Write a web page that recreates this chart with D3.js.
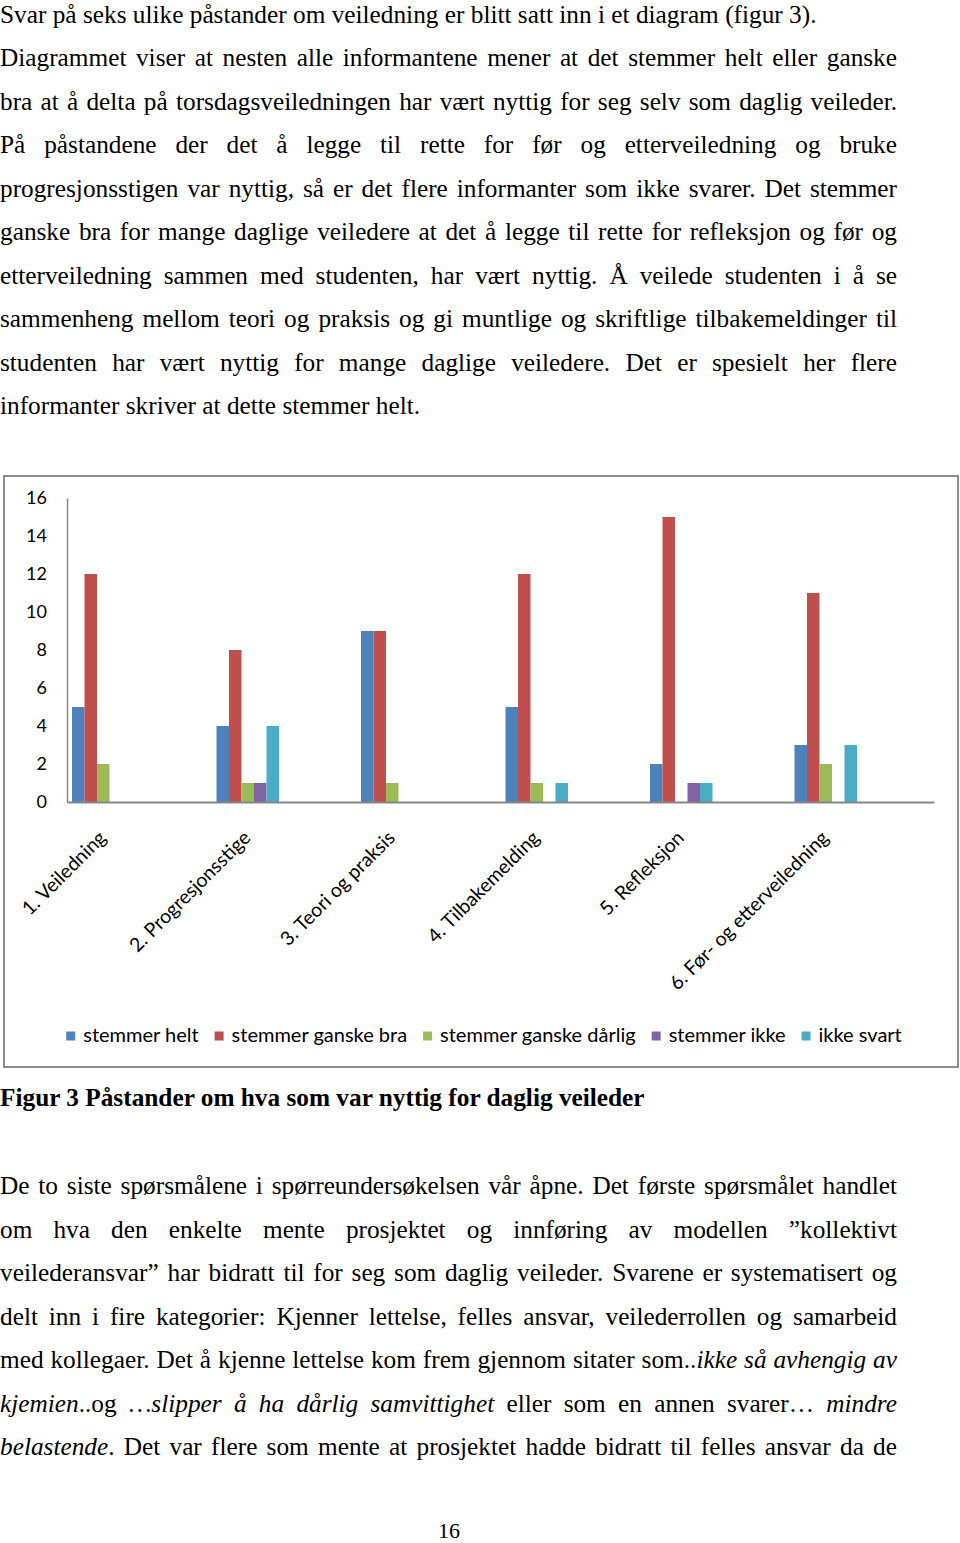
<!DOCTYPE html>
<html>
<head>
<meta charset="utf-8">
<script src="https://cdn.jsdelivr.net/npm/d3@7"></script>
<style>
  html, body { margin: 0; padding: 0; background: #fff; }
  svg { display: block; }
</style>
</head>
<body>
<svg id="page" width="960" height="1543"></svg>
<script>
// ---------- DATA ----------
const categories = ["1. Veiledning", "2. Progresjonsstige", "3. Teori og praksis", "4. Tilbakemelding", "5. Refleksjon", "6. Før- og etterveiledning"];
const seriesNames = ["stemmer helt", "stemmer ganske bra", "stemmer ganske dårlig", "stemmer ikke", "ikke svart"];
const stemmerHelt = [5, 4, 9, 5, 2, 3];
const stemmerGanskeBra = [12, 8, 9, 12, 15, 11];
const stemmerGanskeDarlig = [2, 1, 1, 1, 0, 2];
const stemmerIkke = [0, 1, 0, 0, 1, 0];
const ikkeSvart = [0, 4, 0, 1, 1, 3];
const yTicks = [0, 2, 4, 6, 8, 10, 12, 14, 16];
const seriesColors = ["#4F81BD", "#C0504D", "#9BBB59", "#8064A2", "#4BACC6"];

const paragraph1 = [
  "Svar på seks ulike påstander om veiledning er blitt satt inn i et diagram (figur 3).",
  "Diagrammet viser at nesten alle informantene mener at det stemmer helt eller ganske",
  "bra at å delta på torsdagsveiledningen har vært nyttig for seg selv som daglig veileder.",
  "På påstandene der det å legge til rette for før og etterveiledning og bruke",
  "progresjonsstigen var nyttig, så er det flere informanter som ikke svarer. Det stemmer",
  "ganske bra for mange daglige veiledere at det å legge til rette for refleksjon og før og",
  "etterveiledning sammen med studenten, har vært nyttig. Å veilede studenten i å se",
  "sammenheng mellom teori og praksis og gi muntlige og skriftlige tilbakemeldinger til",
  "studenten har vært nyttig for mange daglige veiledere. Det er spesielt her flere",
  "informanter skriver at dette stemmer helt."
];
const paragraph1Justify = [false, true, true, true, true, true, true, true, true, false];
const caption = "Figur 3 Påstander om hva som var nyttig for daglig veileder";
const paragraph2 = [
  "De to siste spørsmålene i spørreundersøkelsen vår åpne. Det første spørsmålet handlet",
  "om hva den enkelte mente prosjektet og innføring av modellen ”kollektivt",
  "veilederansvar” har bidratt til for seg som daglig veileder. Svarene er systematisert og",
  "delt inn i fire kategorier: Kjenner lettelse, felles ansvar, veilederrollen og samarbeid",
  "med kollegaer. Det å kjenne lettelse kom frem gjennom sitater som..*ikke så avhengig av*",
  "*kjemien*..og *…slipper å ha dårlig samvittighet* eller som en annen svarer… *mindre*",
  "*belastende*. Det var flere som mente at prosjektet hadde bidratt til felles ansvar da de"
];
const pageNumber = "16";

// ---------- PAGE ----------
const svg = d3.select("#page");
svg.append("rect").attr("width", 960).attr("height", 1543).attr("fill", "#fff");

const serifFont = "'Liberation Serif', 'Times New Roman', serif";
const bodySize = 25.3;
const lineGap = 43.5;
const textRight = 897;

function parseWords(str) {
  const words = [];
  let cur = [];
  let seg = "";
  let italic = false;
  const flush = () => { if (seg.length) { cur.push({ t: seg, i: italic }); seg = ""; } };
  for (const ch of str) {
    if (ch === "*") { flush(); italic = !italic; }
    else if (ch === " ") { flush(); if (cur.length) words.push(cur); cur = []; }
    else seg += ch;
  }
  flush();
  if (cur.length) words.push(cur);
  return words;
}

function drawLine(g, str, y, justify) {
  const words = parseWords(str);
  const nodes = words.map(w => {
    const t = g.append("text")
      .attr("y", y)
      .attr("font-family", serifFont)
      .attr("font-size", bodySize)
      .attr("fill", "#000");
    w.forEach(s => t.append("tspan").text(s.t).attr("font-style", s.i ? "italic" : "normal"));
    return t;
  });
  const widths = nodes.map(n => n.node().getComputedTextLength());
  const spaceW = bodySize * 0.25;
  const total = d3.sum(widths);
  const gap = justify && nodes.length > 1 ? (textRight - total) / (nodes.length - 1) : spaceW;
  let x = 0;
  nodes.forEach((n, k) => { n.attr("x", x); x += widths[k] + gap; });
}

const textG = svg.append("g");
paragraph1.forEach((line, k) => drawLine(textG, line, 22.6 + k * lineGap, paragraph1Justify[k]));

svg.append("text")
  .attr("x", 0).attr("y", 1106)
  .attr("font-family", serifFont).attr("font-size", bodySize).attr("font-weight", "bold")
  .text(caption);

paragraph2.forEach((line, k) => drawLine(textG, line, 1194 + k * lineGap, true));

svg.append("text")
  .attr("x", 449).attr("y", 1538).attr("text-anchor", "middle")
  .attr("font-family", serifFont).attr("font-size", 22)
  .text(pageNumber);

// ---------- CHART ----------
const chartFont = "Lato, 'Open Sans', sans-serif";
svg.append("rect")
  .attr("x", 4).attr("y", 476).attr("width", 954).attr("height", 591)
  .attr("fill", "#fff").attr("stroke", "#8c8c8c").attr("stroke-width", 2);

const plotLeft = 67, plotRight = 934, plotTop = 498, plotBottom = 802;
const y = d3.scaleLinear().domain([0, 16]).range([plotBottom, plotTop]);
const x0 = d3.scaleBand().domain(categories).range([plotLeft, plotRight]).padding(0);
const x1 = d3.scaleBand().domain(seriesNames).range([5, 67.5]).padding(0);
const color = d3.scaleOrdinal().domain(seriesNames).range(seriesColors);

const seriesValues = [stemmerHelt, stemmerGanskeBra, stemmerGanskeDarlig, stemmerIkke, ikkeSvart];
const table = categories.map((c, ci) => ({
  category: c,
  values: seriesNames.map((s, si) => ({ series: s, value: seriesValues[si][ci] }))
}));

// y axis
const yAxisG = svg.append("g")
  .attr("transform", `translate(${plotLeft},0)`)
  .call(d3.axisLeft(y).tickValues(yTicks).tickSize(0).tickPadding(20).tickFormat(d3.format("d")));
yAxisG.select(".domain").attr("stroke", "#868686").attr("stroke-width", 1.5);
yAxisG.selectAll("text").attr("font-family", chartFont).attr("font-size", 18).attr("fill", "#000");

// bars
const groups = svg.append("g").selectAll("g")
  .data(table).join("g")
  .attr("transform", d => `translate(${x0(d.category)},0)`);
groups.selectAll("rect")
  .data(d => d.values.filter(v => v.value > 0))
  .join("rect")
  .attr("x", d => x1(d.series))
  .attr("width", x1.bandwidth())
  .attr("y", d => y(d.value))
  .attr("height", d => y(0) - y(d.value))
  .attr("fill", d => color(d.series));

// x axis
const xAxisG = svg.append("g")
  .attr("transform", `translate(0,${plotBottom})`)
  .call(d3.axisBottom(x0).tickSize(0).tickFormat(""));
xAxisG.select(".domain").attr("stroke", "#868686").attr("stroke-width", 2);

// category labels
svg.append("g").selectAll("text")
  .data(categories).join("text")
  .attr("transform", d => `translate(${x0(d) + x1.range()[0] + (x1.range()[1] - x1.range()[0]) / 2 + 4},839) rotate(-45)`)
  .attr("text-anchor", "end")
  .attr("font-family", chartFont).attr("font-size", 19.5)
  .attr("fill", "#000")
  .text(d => d);

// legend
const legendSize = 20;
const legendG = svg.append("g");
const items = legendG.selectAll("g").data(seriesNames).join("g");
items.append("rect").attr("width", 9).attr("height", 9).attr("y", -10.5).attr("fill", d => color(d));
items.append("text").attr("x", 17).attr("font-family", chartFont).attr("font-size", legendSize)
  .attr("fill", "#000").text(d => d);
let lx = 0;
const itemWidths = [];
items.each(function () {
  const w = 17 + d3.select(this).select("text").node().getComputedTextLength();
  itemWidths.push(w);
});
const itemGap = 16;
const legendTotal = d3.sum(itemWidths) + itemGap * (itemWidths.length - 1);
lx = 484 - legendTotal / 2;
items.each(function (d, k) {
  d3.select(this).attr("transform", `translate(${lx},1042)`);
  lx += itemWidths[k] + itemGap;
});
</script>
</body>
</html>
